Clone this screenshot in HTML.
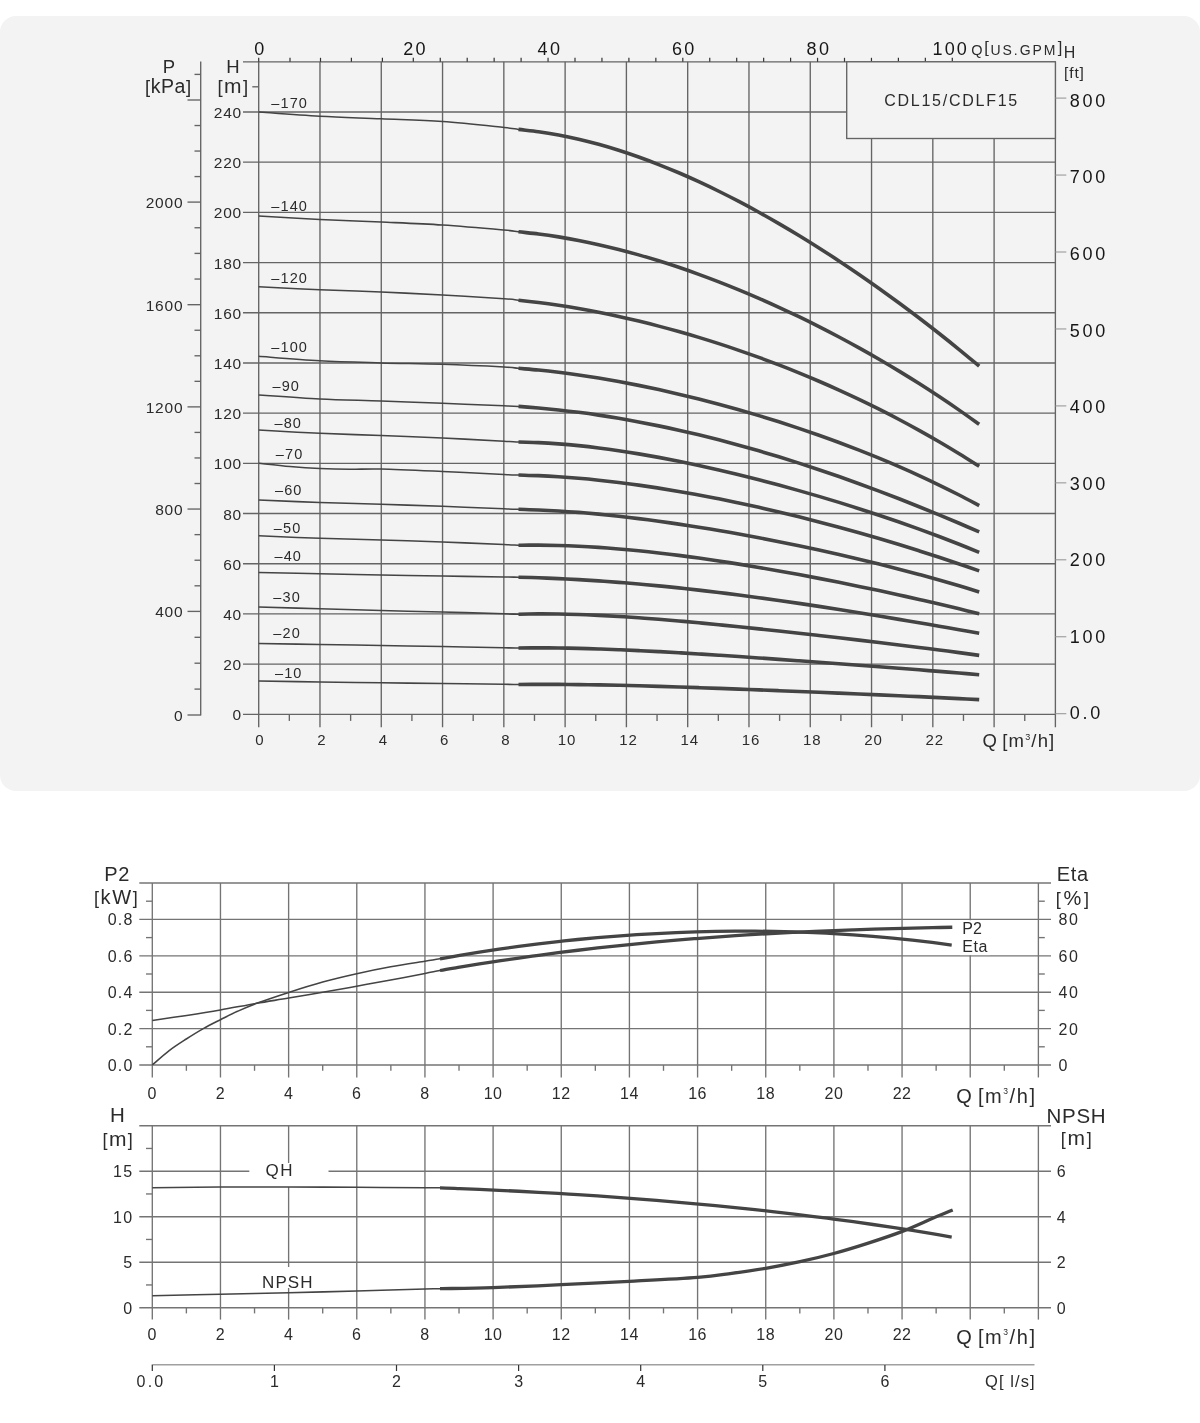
<!DOCTYPE html>
<html><head><meta charset="utf-8"><title>CDL15/CDLF15</title>
<style>
html,body{margin:0;padding:0;background:#fff;}
body{width:1200px;height:1423px;overflow:hidden;font-family:"Liberation Sans",sans-serif;}
#panel{position:absolute;left:0;top:15.8px;width:1200px;height:775.5px;background:#f3f3f3;border-radius:16px;}
svg{position:absolute;left:0;top:0;will-change:transform;}
svg text{font-family:"Liberation Sans",sans-serif;}
</style></head><body>
<div id="panel"></div>
<svg width="1200" height="1423" viewBox="0 0 1200 1423">
<g id="main">
<line x1="258.7" y1="61.8" x2="258.7" y2="727.3" stroke="#646464" stroke-width="1.35"/>
<line x1="319.98" y1="61.8" x2="319.98" y2="727.3" stroke="#646464" stroke-width="1.35"/>
<line x1="381.27" y1="61.8" x2="381.27" y2="727.3" stroke="#646464" stroke-width="1.35"/>
<line x1="442.55" y1="61.8" x2="442.55" y2="727.3" stroke="#646464" stroke-width="1.35"/>
<line x1="503.84" y1="61.8" x2="503.84" y2="727.3" stroke="#646464" stroke-width="1.35"/>
<line x1="565.12" y1="61.8" x2="565.12" y2="727.3" stroke="#646464" stroke-width="1.35"/>
<line x1="626.4" y1="61.8" x2="626.4" y2="727.3" stroke="#646464" stroke-width="1.35"/>
<line x1="687.69" y1="61.8" x2="687.69" y2="727.3" stroke="#646464" stroke-width="1.35"/>
<line x1="748.97" y1="61.8" x2="748.97" y2="727.3" stroke="#646464" stroke-width="1.35"/>
<line x1="810.26" y1="61.8" x2="810.26" y2="727.3" stroke="#646464" stroke-width="1.35"/>
<line x1="871.54" y1="61.8" x2="871.54" y2="727.3" stroke="#646464" stroke-width="1.35"/>
<line x1="932.82" y1="61.8" x2="932.82" y2="727.3" stroke="#646464" stroke-width="1.35"/>
<line x1="994.11" y1="61.8" x2="994.11" y2="727.3" stroke="#646464" stroke-width="1.35"/>
<line x1="1055.39" y1="61.8" x2="1055.39" y2="727.3" stroke="#646464" stroke-width="1.35"/>
<line x1="243" y1="714.3" x2="1055.39" y2="714.3" stroke="#646464" stroke-width="1.35"/>
<line x1="243" y1="664.11" x2="1055.39" y2="664.11" stroke="#646464" stroke-width="1.35"/>
<line x1="243" y1="613.92" x2="1055.39" y2="613.92" stroke="#646464" stroke-width="1.35"/>
<line x1="243" y1="563.72" x2="1055.39" y2="563.72" stroke="#646464" stroke-width="1.35"/>
<line x1="243" y1="513.53" x2="1055.39" y2="513.53" stroke="#646464" stroke-width="1.35"/>
<line x1="243" y1="463.34" x2="1055.39" y2="463.34" stroke="#646464" stroke-width="1.35"/>
<line x1="243" y1="413.15" x2="1055.39" y2="413.15" stroke="#646464" stroke-width="1.35"/>
<line x1="243" y1="362.96" x2="1055.39" y2="362.96" stroke="#646464" stroke-width="1.35"/>
<line x1="243" y1="312.76" x2="1055.39" y2="312.76" stroke="#646464" stroke-width="1.35"/>
<line x1="243" y1="262.57" x2="1055.39" y2="262.57" stroke="#646464" stroke-width="1.35"/>
<line x1="243" y1="212.38" x2="1055.39" y2="212.38" stroke="#646464" stroke-width="1.35"/>
<line x1="243" y1="162.19" x2="1055.39" y2="162.19" stroke="#646464" stroke-width="1.35"/>
<line x1="243" y1="112" x2="1055.39" y2="112" stroke="#646464" stroke-width="1.35"/>
<line x1="243" y1="61.8" x2="1055.39" y2="61.8" stroke="#646464" stroke-width="1.35"/>
<line x1="289.34" y1="714.3" x2="289.34" y2="720.9" stroke="#646464" stroke-width="1.35"/>
<line x1="350.63" y1="714.3" x2="350.63" y2="720.9" stroke="#646464" stroke-width="1.35"/>
<line x1="411.91" y1="714.3" x2="411.91" y2="720.9" stroke="#646464" stroke-width="1.35"/>
<line x1="473.19" y1="714.3" x2="473.19" y2="720.9" stroke="#646464" stroke-width="1.35"/>
<line x1="534.48" y1="714.3" x2="534.48" y2="720.9" stroke="#646464" stroke-width="1.35"/>
<line x1="595.76" y1="714.3" x2="595.76" y2="720.9" stroke="#646464" stroke-width="1.35"/>
<line x1="657.05" y1="714.3" x2="657.05" y2="720.9" stroke="#646464" stroke-width="1.35"/>
<line x1="718.33" y1="714.3" x2="718.33" y2="720.9" stroke="#646464" stroke-width="1.35"/>
<line x1="779.61" y1="714.3" x2="779.61" y2="720.9" stroke="#646464" stroke-width="1.35"/>
<line x1="840.9" y1="714.3" x2="840.9" y2="720.9" stroke="#646464" stroke-width="1.35"/>
<line x1="902.18" y1="714.3" x2="902.18" y2="720.9" stroke="#646464" stroke-width="1.35"/>
<line x1="963.47" y1="714.3" x2="963.47" y2="720.9" stroke="#646464" stroke-width="1.35"/>
<line x1="1024.75" y1="714.3" x2="1024.75" y2="720.9" stroke="#646464" stroke-width="1.35"/>
<line x1="252.3" y1="86.8" x2="258.7" y2="86.8" stroke="#646464" stroke-width="1.35"/>
<line x1="258.7" y1="57.8" x2="258.7" y2="61.8" stroke="#333" stroke-width="1.2"/>
<line x1="290" y1="57.8" x2="290" y2="61.8" stroke="#333" stroke-width="1.2"/>
<line x1="320.5" y1="57.8" x2="320.5" y2="61.8" stroke="#333" stroke-width="1.2"/>
<line x1="351.4" y1="57.8" x2="351.4" y2="61.8" stroke="#333" stroke-width="1.2"/>
<line x1="382.4" y1="57.8" x2="382.4" y2="61.8" stroke="#333" stroke-width="1.2"/>
<line x1="413.3" y1="57.8" x2="413.3" y2="61.8" stroke="#333" stroke-width="1.2"/>
<line x1="440.25" y1="57.8" x2="440.25" y2="61.8" stroke="#333" stroke-width="1.2"/>
<line x1="467.2" y1="57.8" x2="467.2" y2="61.8" stroke="#333" stroke-width="1.2"/>
<line x1="494.15" y1="57.8" x2="494.15" y2="61.8" stroke="#333" stroke-width="1.2"/>
<line x1="521.1" y1="57.8" x2="521.1" y2="61.8" stroke="#333" stroke-width="1.2"/>
<line x1="548.05" y1="57.8" x2="548.05" y2="61.8" stroke="#333" stroke-width="1.2"/>
<line x1="575" y1="57.8" x2="575" y2="61.8" stroke="#333" stroke-width="1.2"/>
<line x1="601.95" y1="57.8" x2="601.95" y2="61.8" stroke="#333" stroke-width="1.2"/>
<line x1="628.9" y1="57.8" x2="628.9" y2="61.8" stroke="#333" stroke-width="1.2"/>
<line x1="655.85" y1="57.8" x2="655.85" y2="61.8" stroke="#333" stroke-width="1.2"/>
<line x1="682.8" y1="57.8" x2="682.8" y2="61.8" stroke="#333" stroke-width="1.2"/>
<line x1="709.75" y1="57.8" x2="709.75" y2="61.8" stroke="#333" stroke-width="1.2"/>
<line x1="736.7" y1="57.8" x2="736.7" y2="61.8" stroke="#333" stroke-width="1.2"/>
<line x1="763.65" y1="57.8" x2="763.65" y2="61.8" stroke="#333" stroke-width="1.2"/>
<line x1="790.6" y1="57.8" x2="790.6" y2="61.8" stroke="#333" stroke-width="1.2"/>
<line x1="817.55" y1="57.8" x2="817.55" y2="61.8" stroke="#333" stroke-width="1.2"/>
<line x1="844.5" y1="57.8" x2="844.5" y2="61.8" stroke="#333" stroke-width="1.2"/>
<line x1="871.45" y1="57.8" x2="871.45" y2="61.8" stroke="#333" stroke-width="1.2"/>
<line x1="898.4" y1="57.8" x2="898.4" y2="61.8" stroke="#333" stroke-width="1.2"/>
<line x1="925.35" y1="57.8" x2="925.35" y2="61.8" stroke="#333" stroke-width="1.2"/>
<line x1="952.3" y1="57.8" x2="952.3" y2="61.8" stroke="#333" stroke-width="1.2"/>
<rect x="846.7" y="61.8" width="208.69" height="76.7" fill="#f3f3f3" stroke="#646464" stroke-width="1.35"/>
<text x="884.2" y="105.6" font-size="16" text-anchor="start" fill="#2b2b2b" letter-spacing="1.75">CDL15/CDLF15</text>
<line x1="200.7" y1="61.4" x2="200.7" y2="715.6" stroke="#646464" stroke-width="1.35"/>
<line x1="187.5" y1="715" x2="200.7" y2="715" stroke="#646464" stroke-width="1.35"/>
<line x1="194.5" y1="689.1" x2="200.7" y2="689.1" stroke="#646464" stroke-width="1.35"/>
<line x1="194.5" y1="663.2" x2="200.7" y2="663.2" stroke="#646464" stroke-width="1.35"/>
<line x1="194.5" y1="637.3" x2="200.7" y2="637.3" stroke="#646464" stroke-width="1.35"/>
<line x1="187.5" y1="611.4" x2="200.7" y2="611.4" stroke="#646464" stroke-width="1.35"/>
<line x1="194.5" y1="585.81" x2="200.7" y2="585.81" stroke="#646464" stroke-width="1.35"/>
<line x1="194.5" y1="560.23" x2="200.7" y2="560.23" stroke="#646464" stroke-width="1.35"/>
<line x1="194.5" y1="534.64" x2="200.7" y2="534.64" stroke="#646464" stroke-width="1.35"/>
<line x1="187.5" y1="509.05" x2="200.7" y2="509.05" stroke="#646464" stroke-width="1.35"/>
<line x1="194.5" y1="483.51" x2="200.7" y2="483.51" stroke="#646464" stroke-width="1.35"/>
<line x1="194.5" y1="457.96" x2="200.7" y2="457.96" stroke="#646464" stroke-width="1.35"/>
<line x1="194.5" y1="432.42" x2="200.7" y2="432.42" stroke="#646464" stroke-width="1.35"/>
<line x1="187.5" y1="406.88" x2="200.7" y2="406.88" stroke="#646464" stroke-width="1.35"/>
<line x1="194.5" y1="381.33" x2="200.7" y2="381.33" stroke="#646464" stroke-width="1.35"/>
<line x1="194.5" y1="355.79" x2="200.7" y2="355.79" stroke="#646464" stroke-width="1.35"/>
<line x1="194.5" y1="330.24" x2="200.7" y2="330.24" stroke="#646464" stroke-width="1.35"/>
<line x1="187.5" y1="304.7" x2="200.7" y2="304.7" stroke="#646464" stroke-width="1.35"/>
<line x1="194.5" y1="279.05" x2="200.7" y2="279.05" stroke="#646464" stroke-width="1.35"/>
<line x1="194.5" y1="253.4" x2="200.7" y2="253.4" stroke="#646464" stroke-width="1.35"/>
<line x1="194.5" y1="227.75" x2="200.7" y2="227.75" stroke="#646464" stroke-width="1.35"/>
<line x1="187.5" y1="202.1" x2="200.7" y2="202.1" stroke="#646464" stroke-width="1.35"/>
<line x1="194.5" y1="176.57" x2="200.7" y2="176.57" stroke="#646464" stroke-width="1.35"/>
<line x1="194.5" y1="151.05" x2="200.7" y2="151.05" stroke="#646464" stroke-width="1.35"/>
<line x1="194.5" y1="125.53" x2="200.7" y2="125.53" stroke="#646464" stroke-width="1.35"/>
<line x1="187.5" y1="100" x2="200.7" y2="100" stroke="#646464" stroke-width="1.35"/>
<line x1="194.5" y1="74.4" x2="200.7" y2="74.4" stroke="#646464" stroke-width="1.35"/>
<text x="183.4" y="721" font-size="15.5" text-anchor="end" fill="#2b2b2b" letter-spacing="0.8">0</text>
<text x="183.4" y="617.4" font-size="15.5" text-anchor="end" fill="#2b2b2b" letter-spacing="0.8">400</text>
<text x="183.4" y="515.05" font-size="15.5" text-anchor="end" fill="#2b2b2b" letter-spacing="0.8">800</text>
<text x="183.4" y="412.88" font-size="15.5" text-anchor="end" fill="#2b2b2b" letter-spacing="0.8">1200</text>
<text x="183.4" y="310.7" font-size="15.5" text-anchor="end" fill="#2b2b2b" letter-spacing="0.8">1600</text>
<text x="183.4" y="208.1" font-size="15.5" text-anchor="end" fill="#2b2b2b" letter-spacing="0.8">2000</text>
<text x="169" y="73.4" font-size="18.5" text-anchor="middle" fill="#2b2b2b">P</text>
<text x="145" y="92.5" font-size="18.5" text-anchor="start" fill="#2b2b2b" letter-spacing="0.55">[<tspan font-size="19.5">kPa</tspan>]</text>
<text x="233" y="73.4" font-size="18.5" text-anchor="middle" fill="#2b2b2b">H</text>
<text x="217.4" y="92.5" font-size="18.5" text-anchor="start" fill="#2b2b2b" letter-spacing="1.5">[<tspan font-size="21">m</tspan>]</text>
<text x="242" y="720.3" font-size="15.5" text-anchor="end" fill="#2b2b2b" letter-spacing="0.8">0</text>
<text x="242" y="670.11" font-size="15.5" text-anchor="end" fill="#2b2b2b" letter-spacing="0.8">20</text>
<text x="242" y="619.92" font-size="15.5" text-anchor="end" fill="#2b2b2b" letter-spacing="0.8">40</text>
<text x="242" y="569.72" font-size="15.5" text-anchor="end" fill="#2b2b2b" letter-spacing="0.8">60</text>
<text x="242" y="519.53" font-size="15.5" text-anchor="end" fill="#2b2b2b" letter-spacing="0.8">80</text>
<text x="242" y="469.34" font-size="15.5" text-anchor="end" fill="#2b2b2b" letter-spacing="0.8">100</text>
<text x="242" y="419.15" font-size="15.5" text-anchor="end" fill="#2b2b2b" letter-spacing="0.8">120</text>
<text x="242" y="368.96" font-size="15.5" text-anchor="end" fill="#2b2b2b" letter-spacing="0.8">140</text>
<text x="242" y="318.76" font-size="15.5" text-anchor="end" fill="#2b2b2b" letter-spacing="0.8">160</text>
<text x="242" y="268.57" font-size="15.5" text-anchor="end" fill="#2b2b2b" letter-spacing="0.8">180</text>
<text x="242" y="218.38" font-size="15.5" text-anchor="end" fill="#2b2b2b" letter-spacing="0.8">200</text>
<text x="242" y="168.19" font-size="15.5" text-anchor="end" fill="#2b2b2b" letter-spacing="0.8">220</text>
<text x="242" y="118" font-size="15.5" text-anchor="end" fill="#2b2b2b" letter-spacing="0.8">240</text>
<text x="259.9" y="744.6" font-size="15" text-anchor="middle" fill="#2b2b2b" letter-spacing="0.9">0</text>
<text x="321.98" y="744.6" font-size="15" text-anchor="middle" fill="#2b2b2b" letter-spacing="0.9">2</text>
<text x="383.27" y="744.6" font-size="15" text-anchor="middle" fill="#2b2b2b" letter-spacing="0.9">4</text>
<text x="444.55" y="744.6" font-size="15" text-anchor="middle" fill="#2b2b2b" letter-spacing="0.9">6</text>
<text x="505.84" y="744.6" font-size="15" text-anchor="middle" fill="#2b2b2b" letter-spacing="0.9">8</text>
<text x="567.12" y="744.6" font-size="15" text-anchor="middle" fill="#2b2b2b" letter-spacing="0.9">10</text>
<text x="628.4" y="744.6" font-size="15" text-anchor="middle" fill="#2b2b2b" letter-spacing="0.9">12</text>
<text x="689.69" y="744.6" font-size="15" text-anchor="middle" fill="#2b2b2b" letter-spacing="0.9">14</text>
<text x="750.97" y="744.6" font-size="15" text-anchor="middle" fill="#2b2b2b" letter-spacing="0.9">16</text>
<text x="812.26" y="744.6" font-size="15" text-anchor="middle" fill="#2b2b2b" letter-spacing="0.9">18</text>
<text x="873.54" y="744.6" font-size="15" text-anchor="middle" fill="#2b2b2b" letter-spacing="0.9">20</text>
<text x="934.82" y="744.6" font-size="15" text-anchor="middle" fill="#2b2b2b" letter-spacing="0.9">22</text>
<text x="982.5" y="747.2" font-size="18.5" text-anchor="start" fill="#2b2b2b" letter-spacing="1.15" word-spacing="-2">Q [m<tspan dy="-7.5" font-size="9">3</tspan><tspan dy="7.5">/h]</tspan></text>
<text x="260.4" y="54.7" font-size="18" text-anchor="middle" fill="#161616" letter-spacing="2.4">0</text>
<text x="415.6" y="54.7" font-size="18" text-anchor="middle" fill="#161616" letter-spacing="2.4">20</text>
<text x="550" y="54.7" font-size="18" text-anchor="middle" fill="#161616" letter-spacing="2.4">40</text>
<text x="684.3" y="54.7" font-size="18" text-anchor="middle" fill="#161616" letter-spacing="2.4">60</text>
<text x="819" y="54.7" font-size="18" text-anchor="middle" fill="#161616" letter-spacing="2.4">80</text>
<text x="932.6" y="54.7" font-size="18" text-anchor="start" fill="#161616" letter-spacing="2.1">100</text>
<text x="971.3" y="54.6" font-size="14.5" text-anchor="start" fill="#2b2b2b">Q</text>
<text x="984.2" y="52.8" font-size="16.5" text-anchor="start" fill="#2b2b2b">[</text>
<text x="990.6" y="54.9" font-size="14" text-anchor="start" fill="#2b2b2b" letter-spacing="1.9">US.GPM</text>
<text x="1057.7" y="52.8" font-size="16.5" text-anchor="start" fill="#2b2b2b">]</text>
<text x="1063.8" y="58" font-size="16" text-anchor="start" fill="#2b2b2b">H</text>
<text x="1064" y="77.5" font-size="15.5" text-anchor="start" fill="#2b2b2b" letter-spacing="0.9">[ft]</text>
<line x1="1055.39" y1="713.7" x2="1066.3" y2="713.7" stroke="#999" stroke-width="1.1"/>
<text x="1069.8" y="719.2" font-size="18" text-anchor="start" fill="#161616" letter-spacing="2.7">0.0</text>
<line x1="1055.39" y1="636.75" x2="1066.3" y2="636.75" stroke="#999" stroke-width="1.1"/>
<text x="1069.8" y="642.66" font-size="18" text-anchor="start" fill="#161616" letter-spacing="2.7">100</text>
<line x1="1055.39" y1="559.8" x2="1066.3" y2="559.8" stroke="#999" stroke-width="1.1"/>
<text x="1069.8" y="566.12" font-size="18" text-anchor="start" fill="#161616" letter-spacing="2.7">200</text>
<line x1="1055.39" y1="482.85" x2="1066.3" y2="482.85" stroke="#999" stroke-width="1.1"/>
<text x="1069.8" y="489.58" font-size="18" text-anchor="start" fill="#161616" letter-spacing="2.7">300</text>
<line x1="1055.39" y1="405.9" x2="1066.3" y2="405.9" stroke="#999" stroke-width="1.1"/>
<text x="1069.8" y="413.04" font-size="18" text-anchor="start" fill="#161616" letter-spacing="2.7">400</text>
<line x1="1055.39" y1="328.95" x2="1066.3" y2="328.95" stroke="#999" stroke-width="1.1"/>
<text x="1069.8" y="336.5" font-size="18" text-anchor="start" fill="#161616" letter-spacing="2.7">500</text>
<line x1="1055.39" y1="252" x2="1066.3" y2="252" stroke="#999" stroke-width="1.1"/>
<text x="1069.8" y="259.96" font-size="18" text-anchor="start" fill="#161616" letter-spacing="2.7">600</text>
<line x1="1055.39" y1="175.05" x2="1066.3" y2="175.05" stroke="#999" stroke-width="1.1"/>
<text x="1069.8" y="183.42" font-size="18" text-anchor="start" fill="#161616" letter-spacing="2.7">700</text>
<line x1="1055.39" y1="98.1" x2="1066.3" y2="98.1" stroke="#999" stroke-width="1.1"/>
<text x="1069.8" y="106.88" font-size="18" text-anchor="start" fill="#161616" letter-spacing="2.7">800</text>
<path d="M258.7,112C268.88,112.72 299.38,115.17 319.8,116.3C340.22,117.43 360.75,117.93 381.2,118.8C401.65,119.67 422.03,120.05 442.5,121.5C462.97,122.95 491.33,126.18 504,127.5C516.67,128.82 512.74,128.7 518.5,129.4C524.26,130.1 531.85,130.77 538.53,131.71" fill="none" stroke="#444" stroke-width="1.55"/>
<path d="M518.5,129.4C524.26,130.1 531.85,130.77 538.53,131.71C545.21,132.64 551.88,133.75 558.56,135C565.24,136.25 571.91,137.67 578.59,139.23C585.27,140.79 591.94,142.5 598.62,144.35C605.3,146.19 611.98,148.18 618.65,150.3C625.33,152.42 632.01,154.68 638.68,157.05C645.36,159.43 652.04,161.94 658.71,164.56C665.39,167.18 672.07,169.93 678.74,172.78C685.42,175.64 692.1,178.61 698.77,181.69C705.45,184.77 712.13,187.96 718.8,191.25C725.48,194.54 732.16,197.94 738.83,201.43C745.51,204.92 752.19,208.52 758.87,212.21C765.54,215.9 772.22,219.69 778.9,223.57C785.57,227.45 792.25,231.42 798.93,235.48C805.6,239.54 812.28,243.7 818.96,247.93C825.63,252.17 832.31,256.5 838.99,260.92C845.66,265.33 852.34,269.83 859.02,274.42C865.69,279 872.37,283.68 879.05,288.43C885.72,293.19 892.4,298.03 899.08,302.95C905.76,307.88 912.43,312.88 919.11,317.98C925.79,323.07 932.46,328.25 939.14,333.52C945.82,338.78 952.49,344.13 959.17,349.57C965.85,355.01 975.86,363.38 979.2,366.14" fill="none" stroke="#444" stroke-width="3.6"/>
<path d="M258.7,216C268.88,216.58 299.38,218.5 319.8,219.5C340.22,220.5 360.75,221.08 381.2,222C401.65,222.92 422.03,223.67 442.5,225C462.97,226.33 491.33,228.87 504,230C516.67,231.13 512.74,231.14 518.5,231.8C524.26,232.46 531.85,233.13 538.53,233.97" fill="none" stroke="#444" stroke-width="1.55"/>
<path d="M518.5,231.8C524.26,232.46 531.85,233.13 538.53,233.97C545.21,234.82 551.88,235.79 558.56,236.86C565.24,237.94 571.91,239.13 578.59,240.43C585.27,241.73 591.94,243.14 598.62,244.64C605.3,246.15 611.98,247.76 618.65,249.46C625.33,251.17 632.01,252.97 638.68,254.87C645.36,256.76 652.04,258.75 658.71,260.82C665.39,262.9 672.07,265.07 678.74,267.32C685.42,269.57 692.1,271.91 698.77,274.33C705.45,276.75 712.13,279.26 718.8,281.84C725.48,284.43 732.16,287.1 738.83,289.84C745.51,292.59 752.19,295.42 758.87,298.33C765.54,301.23 772.22,304.22 778.9,307.28C785.57,310.35 792.25,313.49 798.93,316.72C805.6,319.94 812.28,323.24 818.96,326.62C825.63,330 832.31,333.47 838.99,337.01C845.66,340.55 852.34,344.18 859.02,347.89C865.69,351.59 872.37,355.38 879.05,359.26C885.72,363.14 892.4,367.1 899.08,371.15C905.76,375.21 912.43,379.35 919.11,383.58C925.79,387.81 932.46,392.14 939.14,396.56C945.82,400.99 952.49,405.5 959.17,410.12C965.85,414.75 975.86,421.93 979.2,424.3" fill="none" stroke="#444" stroke-width="3.6"/>
<path d="M258.7,286.8C268.88,287.3 299.38,288.93 319.8,289.8C340.22,290.67 360.75,291.13 381.2,292C401.65,292.87 422.03,293.87 442.5,295C462.97,296.13 491.33,297.93 504,298.8C516.67,299.67 512.74,299.58 518.5,300.2C524.26,300.82 531.85,301.67 538.53,302.52" fill="none" stroke="#444" stroke-width="1.55"/>
<path d="M518.5,300.2C524.26,300.82 531.85,301.67 538.53,302.52C545.21,303.37 551.88,304.31 558.56,305.33C565.24,306.34 571.91,307.43 578.59,308.6C585.27,309.77 591.94,311.02 598.62,312.33C605.3,313.65 611.98,315.04 618.65,316.5C625.33,317.96 632.01,319.5 638.68,321.1C645.36,322.7 652.04,324.38 658.71,326.12C665.39,327.86 672.07,329.67 678.74,331.55C685.42,333.43 692.1,335.38 698.77,337.4C705.45,339.42 712.13,341.5 718.8,343.66C725.48,345.81 732.16,348.03 738.83,350.33C745.51,352.62 752.19,354.98 758.87,357.41C765.54,359.84 772.22,362.34 778.9,364.92C785.57,367.49 792.25,370.14 798.93,372.86C805.6,375.58 812.28,378.37 818.96,381.24C825.63,384.1 832.31,387.05 838.99,390.07C845.66,393.09 852.34,396.19 859.02,399.38C865.69,402.56 872.37,405.82 879.05,409.18C885.72,412.53 892.4,415.96 899.08,419.48C905.76,423.01 912.43,426.62 919.11,430.33C925.79,434.04 932.46,437.83 939.14,441.73C945.82,445.63 952.49,449.62 959.17,453.72C965.85,457.82 975.86,464.23 979.2,466.34" fill="none" stroke="#444" stroke-width="3.6"/>
<path d="M258.7,356.3C268.88,357.05 299.38,359.7 319.8,360.8C340.22,361.9 360.75,362.32 381.2,362.9C401.65,363.48 422.03,363.62 442.5,364.3C462.97,364.98 491.33,366.33 504,367C516.67,367.67 512.74,367.79 518.5,368.3C524.26,368.81 531.85,369.39 538.53,370.06" fill="none" stroke="#444" stroke-width="1.55"/>
<path d="M518.5,368.3C524.26,368.81 531.85,369.39 538.53,370.06C545.21,370.72 551.88,371.47 558.56,372.29C565.24,373.1 571.91,374 578.59,374.96C585.27,375.92 591.94,376.95 598.62,378.05C605.3,379.14 611.98,380.3 618.65,381.53C625.33,382.75 632.01,384.04 638.68,385.38C645.36,386.72 652.04,388.13 658.71,389.59C665.39,391.05 672.07,392.56 678.74,394.14C685.42,395.71 692.1,397.34 698.77,399.02C705.45,400.7 712.13,402.44 718.8,404.23C725.48,406.02 732.16,407.87 738.83,409.77C745.51,411.67 752.19,413.62 758.87,415.63C765.54,417.64 772.22,419.7 778.9,421.83C785.57,423.95 792.25,426.12 798.93,428.36C805.6,430.6 812.28,432.89 818.96,435.24C825.63,437.6 832.31,440.01 838.99,442.5C845.66,444.98 852.34,447.52 859.02,450.13C865.69,452.75 872.37,455.42 879.05,458.18C885.72,460.93 892.4,463.75 899.08,466.65C905.76,469.56 912.43,472.53 919.11,475.59C925.79,478.66 932.46,481.8 939.14,485.03C945.82,488.26 952.49,491.58 959.17,495C965.85,498.41 975.86,503.78 979.2,505.54" fill="none" stroke="#444" stroke-width="3.6"/>
<path d="M258.7,395C268.88,395.67 299.38,398 319.8,399C340.22,400 360.75,400.28 381.2,401C401.65,401.72 422.03,402.5 442.5,403.3C462.97,404.1 491.33,405.28 504,405.8C516.67,406.32 512.74,406.04 518.5,406.4C524.26,406.76 531.85,407.36 538.53,407.95" fill="none" stroke="#444" stroke-width="1.55"/>
<path d="M518.5,406.4C524.26,406.76 531.85,407.36 538.53,407.95C545.21,408.54 551.88,409.2 558.56,409.93C565.24,410.66 571.91,411.46 578.59,412.33C585.27,413.2 591.94,414.13 598.62,415.13C605.3,416.13 611.98,417.2 618.65,418.33C625.33,419.45 632.01,420.65 638.68,421.9C645.36,423.16 652.04,424.48 658.71,425.86C665.39,427.23 672.07,428.67 678.74,430.17C685.42,431.67 692.1,433.22 698.77,434.84C705.45,436.45 712.13,438.12 718.8,439.84C725.48,441.57 732.16,443.35 738.83,445.19C745.51,447.02 752.19,448.91 758.87,450.85C765.54,452.79 772.22,454.79 778.9,456.83C785.57,458.88 792.25,460.97 798.93,463.12C805.6,465.26 812.28,467.46 818.96,469.7C825.63,471.94 832.31,474.23 838.99,476.56C845.66,478.9 852.34,481.28 859.02,483.71C865.69,486.13 872.37,488.6 879.05,491.12C885.72,493.63 892.4,496.19 899.08,498.79C905.76,501.39 912.43,504.03 919.11,506.71C925.79,509.4 932.46,512.12 939.14,514.88C945.82,517.64 952.49,520.44 959.17,523.28C965.85,526.12 975.86,530.48 979.2,531.91" fill="none" stroke="#444" stroke-width="3.6"/>
<path d="M258.7,430C268.88,430.55 299.38,432.38 319.8,433.3C340.22,434.22 360.75,434.72 381.2,435.5C401.65,436.28 422.03,437.03 442.5,438C462.97,438.97 491.33,440.63 504,441.3C516.67,441.97 512.74,441.78 518.5,442C524.26,442.22 531.85,442.32 538.53,442.63" fill="none" stroke="#444" stroke-width="1.55"/>
<path d="M518.5,442C524.26,442.22 531.85,442.32 538.53,442.63C545.21,442.94 551.88,443.36 558.56,443.86C565.24,444.37 571.91,444.97 578.59,445.65C585.27,446.33 591.94,447.1 598.62,447.94C605.3,448.78 611.98,449.7 618.65,450.69C625.33,451.67 632.01,452.73 638.68,453.85C645.36,454.97 652.04,456.15 658.71,457.39C665.39,458.63 672.07,459.93 678.74,461.28C685.42,462.63 692.1,464.03 698.77,465.49C705.45,466.94 712.13,468.44 718.8,469.99C725.48,471.53 732.16,473.13 738.83,474.76C745.51,476.4 752.19,478.08 758.87,479.8C765.54,481.52 772.22,483.29 778.9,485.09C785.57,486.89 792.25,488.73 798.93,490.62C805.6,492.5 812.28,494.42 818.96,496.39C825.63,498.35 832.31,500.36 838.99,502.4C845.66,504.45 852.34,506.53 859.02,508.66C865.69,510.8 872.37,512.97 879.05,515.19C885.72,517.41 892.4,519.67 899.08,521.99C905.76,524.3 912.43,526.66 919.11,529.08C925.79,531.5 932.46,533.97 939.14,536.5C945.82,539.03 952.49,541.61 959.17,544.26C965.85,546.91 975.86,551.04 979.2,552.4" fill="none" stroke="#444" stroke-width="3.6"/>
<path d="M258.7,463.3C263.92,463.83 279.82,465.63 290,466.5C300.18,467.37 309.8,468.03 319.8,468.5C329.8,468.97 339.77,469.22 350,469.3C360.23,469.38 365.78,468.63 381.2,469C396.62,469.37 422.03,470.58 442.5,471.5C462.97,472.42 491.33,473.92 504,474.5C516.67,475.08 512.74,474.81 518.5,475C524.26,475.19 531.85,475.37 538.53,475.66" fill="none" stroke="#444" stroke-width="1.55"/>
<path d="M518.5,475C524.26,475.19 531.85,475.37 538.53,475.66C545.21,475.96 551.88,476.33 558.56,476.77C565.24,477.21 571.91,477.72 578.59,478.3C585.27,478.87 591.94,479.52 598.62,480.22C605.3,480.92 611.98,481.69 618.65,482.51C625.33,483.34 632.01,484.22 638.68,485.15C645.36,486.09 652.04,487.08 658.71,488.13C665.39,489.17 672.07,490.26 678.74,491.41C685.42,492.55 692.1,493.75 698.77,494.99C705.45,496.22 712.13,497.51 718.8,498.84C725.48,500.17 732.16,501.55 738.83,502.97C745.51,504.38 752.19,505.84 758.87,507.35C765.54,508.85 772.22,510.39 778.9,511.97C785.57,513.55 792.25,515.18 798.93,516.84C805.6,518.5 812.28,520.2 818.96,521.93C825.63,523.67 832.31,525.44 838.99,527.26C845.66,529.07 852.34,530.92 859.02,532.81C865.69,534.69 872.37,536.62 879.05,538.58C885.72,540.54 892.4,542.54 899.08,544.58C905.76,546.61 912.43,548.69 919.11,550.8C925.79,552.92 932.46,555.07 939.14,557.26C945.82,559.45 952.49,561.68 959.17,563.95C965.85,566.23 975.86,569.74 979.2,570.89" fill="none" stroke="#444" stroke-width="3.6"/>
<path d="M258.7,500C268.88,500.42 299.38,501.78 319.8,502.5C340.22,503.22 360.75,503.67 381.2,504.3C401.65,504.93 422.03,505.55 442.5,506.3C462.97,507.05 491.33,508.3 504,508.8C516.67,509.3 512.74,509.11 518.5,509.3C524.26,509.49 531.85,509.66 538.53,509.94" fill="none" stroke="#444" stroke-width="1.55"/>
<path d="M518.5,509.3C524.26,509.49 531.85,509.66 538.53,509.94C545.21,510.22 551.88,510.57 558.56,510.98C565.24,511.39 571.91,511.87 578.59,512.4C585.27,512.93 591.94,513.52 598.62,514.16C605.3,514.8 611.98,515.49 618.65,516.23C625.33,516.97 632.01,517.76 638.68,518.59C645.36,519.43 652.04,520.31 658.71,521.22C665.39,522.14 672.07,523.1 678.74,524.1C685.42,525.09 692.1,526.13 698.77,527.2C705.45,528.27 712.13,529.38 718.8,530.52C725.48,531.66 732.16,532.84 738.83,534.04C745.51,535.25 752.19,536.49 758.87,537.76C765.54,539.03 772.22,540.34 778.9,541.67C785.57,543 792.25,544.37 798.93,545.76C805.6,547.16 812.28,548.59 818.96,550.05C825.63,551.5 832.31,552.99 838.99,554.52C845.66,556.04 852.34,557.59 859.02,559.18C865.69,560.77 872.37,562.39 879.05,564.05C885.72,565.71 892.4,567.41 899.08,569.14C905.76,570.87 912.43,572.64 919.11,574.45C925.79,576.27 932.46,578.12 939.14,580.02C945.82,581.91 952.49,583.85 959.17,585.84C965.85,587.83 975.86,590.94 979.2,591.96" fill="none" stroke="#444" stroke-width="3.6"/>
<path d="M258.7,535.8C268.88,536.22 299.38,537.6 319.8,538.3C340.22,539 360.75,539.38 381.2,540C401.65,540.62 422.03,541.25 442.5,542C462.97,542.75 491.33,543.97 504,544.5C516.67,545.03 512.74,545.1 518.5,545.2C524.26,545.3 531.85,545.05 538.53,545.09" fill="none" stroke="#444" stroke-width="1.55"/>
<path d="M518.5,545.2C524.26,545.3 531.85,545.05 538.53,545.09C545.21,545.13 551.88,545.25 558.56,545.44C565.24,545.63 571.91,545.9 578.59,546.22C585.27,546.55 591.94,546.95 598.62,547.4C605.3,547.85 611.98,548.37 618.65,548.93C625.33,549.5 632.01,550.12 638.68,550.79C645.36,551.47 652.04,552.19 658.71,552.96C665.39,553.72 672.07,554.54 678.74,555.39C685.42,556.25 692.1,557.14 698.77,558.08C705.45,559.01 712.13,559.98 718.8,560.99C725.48,561.99 732.16,563.04 738.83,564.11C745.51,565.18 752.19,566.29 758.87,567.42C765.54,568.55 772.22,569.72 778.9,570.9C785.57,572.09 792.25,573.31 798.93,574.55C805.6,575.8 812.28,577.06 818.96,578.36C825.63,579.65 832.31,580.96 838.99,582.3C845.66,583.64 852.34,585 859.02,586.39C865.69,587.77 872.37,589.18 879.05,590.61C885.72,592.04 892.4,593.49 899.08,594.96C905.76,596.44 912.43,597.93 919.11,599.45C925.79,600.97 932.46,602.51 939.14,604.08C945.82,605.65 952.49,607.24 959.17,608.85C965.85,610.47 975.86,612.96 979.2,613.78" fill="none" stroke="#444" stroke-width="3.6"/>
<path d="M258.7,572.5C268.88,572.72 299.38,573.38 319.8,573.8C340.22,574.22 360.75,574.63 381.2,575C401.65,575.37 422.03,575.67 442.5,576C462.97,576.33 491.33,576.8 504,577C516.67,577.2 512.74,577.07 518.5,577.2C524.26,577.33 531.85,577.56 538.53,577.79" fill="none" stroke="#444" stroke-width="1.55"/>
<path d="M518.5,577.2C524.26,577.33 531.85,577.56 538.53,577.79C545.21,578.03 551.88,578.3 558.56,578.61C565.24,578.92 571.91,579.27 578.59,579.66C585.27,580.04 591.94,580.46 598.62,580.91C605.3,581.36 611.98,581.85 618.65,582.37C625.33,582.89 632.01,583.45 638.68,584.03C645.36,584.62 652.04,585.24 658.71,585.88C665.39,586.53 672.07,587.21 678.74,587.91C685.42,588.62 692.1,589.35 698.77,590.12C705.45,590.88 712.13,591.67 718.8,592.48C725.48,593.29 732.16,594.14 738.83,595C745.51,595.86 752.19,596.75 758.87,597.66C765.54,598.57 772.22,599.5 778.9,600.45C785.57,601.41 792.25,602.38 798.93,603.37C805.6,604.36 812.28,605.37 818.96,606.4C825.63,607.42 832.31,608.47 838.99,609.52C845.66,610.58 852.34,611.65 859.02,612.74C865.69,613.82 872.37,614.92 879.05,616.03C885.72,617.13 892.4,618.25 899.08,619.38C905.76,620.5 912.43,621.64 919.11,622.78C925.79,623.92 932.46,625.07 939.14,626.22C945.82,627.37 952.49,628.53 959.17,629.69C965.85,630.84 975.86,632.58 979.2,633.16" fill="none" stroke="#444" stroke-width="3.6"/>
<path d="M258.7,607C268.88,607.3 299.38,608.22 319.8,608.8C340.22,609.38 360.75,609.97 381.2,610.5C401.65,611.03 422.03,611.45 442.5,612C462.97,612.55 491.33,613.43 504,613.8C516.67,614.17 512.74,614.18 518.5,614.2C524.26,614.22 531.85,613.94 538.53,613.92" fill="none" stroke="#444" stroke-width="1.55"/>
<path d="M518.5,614.2C524.26,614.22 531.85,613.94 538.53,613.92C545.21,613.9 551.88,613.95 558.56,614.05C565.24,614.16 571.91,614.33 578.59,614.55C585.27,614.76 591.94,615.04 598.62,615.36C605.3,615.67 611.98,616.04 618.65,616.44C625.33,616.84 632.01,617.29 638.68,617.76C645.36,618.23 652.04,618.75 658.71,619.28C665.39,619.81 672.07,620.38 678.74,620.97C685.42,621.55 692.1,622.16 698.77,622.79C705.45,623.42 712.13,624.07 718.8,624.73C725.48,625.39 732.16,626.07 738.83,626.76C745.51,627.45 752.19,628.16 758.87,628.87C765.54,629.58 772.22,630.31 778.9,631.04C785.57,631.77 792.25,632.51 798.93,633.26C805.6,634 812.28,634.76 818.96,635.51C825.63,636.27 832.31,637.04 838.99,637.81C845.66,638.58 852.34,639.36 859.02,640.15C865.69,640.93 872.37,641.72 879.05,642.52C885.72,643.32 892.4,644.13 899.08,644.95C905.76,645.76 912.43,646.59 919.11,647.43C925.79,648.27 932.46,649.12 939.14,649.98C945.82,650.85 952.49,651.72 959.17,652.62C965.85,653.52 975.86,654.91 979.2,655.37" fill="none" stroke="#444" stroke-width="3.6"/>
<path d="M258.7,643.5C268.88,643.67 299.38,644.17 319.8,644.5C340.22,644.83 360.75,645.17 381.2,645.5C401.65,645.83 422.03,646.12 442.5,646.5C462.97,646.88 491.33,647.55 504,647.8C516.67,648.05 512.74,647.99 518.5,648C524.26,648.01 531.85,647.87 538.53,647.87" fill="none" stroke="#444" stroke-width="1.55"/>
<path d="M518.5,648C524.26,648.01 531.85,647.87 538.53,647.87C545.21,647.87 551.88,647.92 558.56,648.01C565.24,648.09 571.91,648.22 578.59,648.37C585.27,648.53 591.94,648.72 598.62,648.94C605.3,649.16 611.98,649.41 618.65,649.68C625.33,649.96 632.01,650.26 638.68,650.58C645.36,650.9 652.04,651.24 658.71,651.6C665.39,651.96 672.07,652.33 678.74,652.72C685.42,653.11 692.1,653.52 698.77,653.94C705.45,654.35 712.13,654.79 718.8,655.22C725.48,655.66 732.16,656.11 738.83,656.56C745.51,657.02 752.19,657.48 758.87,657.95C765.54,658.42 772.22,658.89 778.9,659.37C785.57,659.84 792.25,660.33 798.93,660.81C805.6,661.3 812.28,661.78 818.96,662.28C825.63,662.77 832.31,663.26 838.99,663.75C845.66,664.25 852.34,664.75 859.02,665.25C865.69,665.75 872.37,666.25 879.05,666.76C885.72,667.26 892.4,667.77 899.08,668.28C905.76,668.8 912.43,669.31 919.11,669.83C925.79,670.35 932.46,670.88 939.14,671.41C945.82,671.94 952.49,672.48 959.17,673.03C965.85,673.57 975.86,674.41 979.2,674.69" fill="none" stroke="#444" stroke-width="3.6"/>
<path d="M258.7,681C268.88,681.17 299.38,681.7 319.8,682C340.22,682.3 360.75,682.55 381.2,682.8C401.65,683.05 422.03,683.25 442.5,683.5C462.97,683.75 491.33,684.13 504,684.3C516.67,684.47 512.74,684.49 518.5,684.5C524.26,684.51 531.85,684.39 538.53,684.37" fill="none" stroke="#444" stroke-width="1.55"/>
<path d="M518.5,684.5C524.26,684.51 531.85,684.39 538.53,684.37C545.21,684.35 551.88,684.37 558.56,684.4C565.24,684.44 571.91,684.5 578.59,684.58C585.27,684.66 591.94,684.77 598.62,684.88C605.3,685 611.98,685.14 618.65,685.29C625.33,685.44 632.01,685.61 638.68,685.79C645.36,685.97 652.04,686.16 658.71,686.36C665.39,686.56 672.07,686.77 678.74,686.99C685.42,687.21 692.1,687.44 698.77,687.67C705.45,687.9 712.13,688.14 718.8,688.39C725.48,688.63 732.16,688.88 738.83,689.13C745.51,689.39 752.19,689.64 758.87,689.9C765.54,690.16 772.22,690.43 778.9,690.69C785.57,690.96 792.25,691.23 798.93,691.5C805.6,691.77 812.28,692.04 818.96,692.31C825.63,692.59 832.31,692.87 838.99,693.14C845.66,693.42 852.34,693.7 859.02,693.99C865.69,694.27 872.37,694.56 879.05,694.85C885.72,695.14 892.4,695.44 899.08,695.74C905.76,696.04 912.43,696.34 919.11,696.65C925.79,696.96 932.46,697.28 939.14,697.6C945.82,697.93 952.49,698.26 959.17,698.6C965.85,698.94 975.86,699.48 979.2,699.66" fill="none" stroke="#444" stroke-width="3.6"/>
<text x="271.3" y="107.5" font-size="14.5" text-anchor="start" fill="#2b2b2b" letter-spacing="1.1">–170</text>
<text x="271.3" y="211" font-size="14.5" text-anchor="start" fill="#2b2b2b" letter-spacing="1.1">–140</text>
<text x="271.3" y="282.5" font-size="14.5" text-anchor="start" fill="#2b2b2b" letter-spacing="1.1">–120</text>
<text x="271.3" y="351.8" font-size="14.5" text-anchor="start" fill="#2b2b2b" letter-spacing="1.1">–100</text>
<text x="272.5" y="390.8" font-size="14.5" text-anchor="start" fill="#2b2b2b" letter-spacing="1.1">–90</text>
<text x="274.5" y="427.5" font-size="14.5" text-anchor="start" fill="#2b2b2b" letter-spacing="1.1">–80</text>
<text x="275.8" y="459.3" font-size="14.5" text-anchor="start" fill="#2b2b2b" letter-spacing="1.1">–70</text>
<text x="275" y="495" font-size="14.5" text-anchor="start" fill="#2b2b2b" letter-spacing="1.1">–60</text>
<text x="273.8" y="532.5" font-size="14.5" text-anchor="start" fill="#2b2b2b" letter-spacing="1.1">–50</text>
<text x="274.5" y="561.3" font-size="14.5" text-anchor="start" fill="#2b2b2b" letter-spacing="1.1">–40</text>
<text x="273.3" y="601.8" font-size="14.5" text-anchor="start" fill="#2b2b2b" letter-spacing="1.1">–30</text>
<text x="273.3" y="638" font-size="14.5" text-anchor="start" fill="#2b2b2b" letter-spacing="1.1">–20</text>
<text x="275" y="677.5" font-size="14.5" text-anchor="start" fill="#2b2b2b" letter-spacing="1.1">–10</text>
</g>
<g id="p2">
<line x1="152.3" y1="883" x2="152.3" y2="1077.5" stroke="#747474" stroke-width="1.35"/>
<line x1="220.46" y1="883" x2="220.46" y2="1077.5" stroke="#747474" stroke-width="1.35"/>
<line x1="288.62" y1="883" x2="288.62" y2="1077.5" stroke="#747474" stroke-width="1.35"/>
<line x1="356.78" y1="883" x2="356.78" y2="1077.5" stroke="#747474" stroke-width="1.35"/>
<line x1="424.94" y1="883" x2="424.94" y2="1077.5" stroke="#747474" stroke-width="1.35"/>
<line x1="493.1" y1="883" x2="493.1" y2="1077.5" stroke="#747474" stroke-width="1.35"/>
<line x1="561.26" y1="883" x2="561.26" y2="1077.5" stroke="#747474" stroke-width="1.35"/>
<line x1="629.42" y1="883" x2="629.42" y2="1077.5" stroke="#747474" stroke-width="1.35"/>
<line x1="697.58" y1="883" x2="697.58" y2="1077.5" stroke="#747474" stroke-width="1.35"/>
<line x1="765.74" y1="883" x2="765.74" y2="1077.5" stroke="#747474" stroke-width="1.35"/>
<line x1="833.9" y1="883" x2="833.9" y2="1077.5" stroke="#747474" stroke-width="1.35"/>
<line x1="902.06" y1="883" x2="902.06" y2="1077.5" stroke="#747474" stroke-width="1.35"/>
<line x1="970.22" y1="883" x2="970.22" y2="1077.5" stroke="#747474" stroke-width="1.35"/>
<line x1="1038.38" y1="883" x2="1038.38" y2="1077.5" stroke="#747474" stroke-width="1.35"/>
<line x1="139.3" y1="1065" x2="1051" y2="1065" stroke="#747474" stroke-width="1.35"/>
<line x1="139.3" y1="1028.6" x2="1051" y2="1028.6" stroke="#747474" stroke-width="1.35"/>
<line x1="139.3" y1="992.2" x2="1051" y2="992.2" stroke="#747474" stroke-width="1.35"/>
<line x1="139.3" y1="955.8" x2="1051" y2="955.8" stroke="#747474" stroke-width="1.35"/>
<line x1="139.3" y1="919.4" x2="1051" y2="919.4" stroke="#747474" stroke-width="1.35"/>
<line x1="139.3" y1="883" x2="1051" y2="883" stroke="#747474" stroke-width="1.35"/>
<line x1="146" y1="1046.8" x2="152.3" y2="1046.8" stroke="#747474" stroke-width="1.35"/>
<line x1="1038.38" y1="1046.8" x2="1044.8" y2="1046.8" stroke="#747474" stroke-width="1.35"/>
<line x1="146" y1="1010.4" x2="152.3" y2="1010.4" stroke="#747474" stroke-width="1.35"/>
<line x1="1038.38" y1="1010.4" x2="1044.8" y2="1010.4" stroke="#747474" stroke-width="1.35"/>
<line x1="146" y1="974" x2="152.3" y2="974" stroke="#747474" stroke-width="1.35"/>
<line x1="1038.38" y1="974" x2="1044.8" y2="974" stroke="#747474" stroke-width="1.35"/>
<line x1="146" y1="937.6" x2="152.3" y2="937.6" stroke="#747474" stroke-width="1.35"/>
<line x1="1038.38" y1="937.6" x2="1044.8" y2="937.6" stroke="#747474" stroke-width="1.35"/>
<line x1="146" y1="901.2" x2="152.3" y2="901.2" stroke="#747474" stroke-width="1.35"/>
<line x1="1038.38" y1="901.2" x2="1044.8" y2="901.2" stroke="#747474" stroke-width="1.35"/>
<line x1="186.38" y1="1065" x2="186.38" y2="1070.8" stroke="#747474" stroke-width="1.35"/>
<line x1="254.54" y1="1065" x2="254.54" y2="1070.8" stroke="#747474" stroke-width="1.35"/>
<line x1="322.7" y1="1065" x2="322.7" y2="1070.8" stroke="#747474" stroke-width="1.35"/>
<line x1="390.86" y1="1065" x2="390.86" y2="1070.8" stroke="#747474" stroke-width="1.35"/>
<line x1="459.02" y1="1065" x2="459.02" y2="1070.8" stroke="#747474" stroke-width="1.35"/>
<line x1="527.18" y1="1065" x2="527.18" y2="1070.8" stroke="#747474" stroke-width="1.35"/>
<line x1="595.34" y1="1065" x2="595.34" y2="1070.8" stroke="#747474" stroke-width="1.35"/>
<line x1="663.5" y1="1065" x2="663.5" y2="1070.8" stroke="#747474" stroke-width="1.35"/>
<line x1="731.66" y1="1065" x2="731.66" y2="1070.8" stroke="#747474" stroke-width="1.35"/>
<line x1="799.82" y1="1065" x2="799.82" y2="1070.8" stroke="#747474" stroke-width="1.35"/>
<line x1="867.98" y1="1065" x2="867.98" y2="1070.8" stroke="#747474" stroke-width="1.35"/>
<line x1="936.14" y1="1065" x2="936.14" y2="1070.8" stroke="#747474" stroke-width="1.35"/>
<line x1="1004.3" y1="1065" x2="1004.3" y2="1070.8" stroke="#747474" stroke-width="1.35"/>
<text x="133.8" y="1070.9" font-size="16" text-anchor="end" fill="#2b2b2b" letter-spacing="1.3">0.0</text>
<text x="133.8" y="1034.5" font-size="16" text-anchor="end" fill="#2b2b2b" letter-spacing="1.3">0.2</text>
<text x="133.8" y="998.1" font-size="16" text-anchor="end" fill="#2b2b2b" letter-spacing="1.3">0.4</text>
<text x="133.8" y="961.7" font-size="16" text-anchor="end" fill="#2b2b2b" letter-spacing="1.3">0.6</text>
<text x="133.8" y="925.3" font-size="16" text-anchor="end" fill="#2b2b2b" letter-spacing="1.3">0.8</text>
<text x="1058.5" y="1070.9" font-size="16" text-anchor="start" fill="#2b2b2b" letter-spacing="1.6">0</text>
<text x="1058.5" y="1034.5" font-size="16" text-anchor="start" fill="#2b2b2b" letter-spacing="1.6">20</text>
<text x="1058.5" y="998.1" font-size="16" text-anchor="start" fill="#2b2b2b" letter-spacing="1.6">40</text>
<text x="1058.5" y="961.7" font-size="16" text-anchor="start" fill="#2b2b2b" letter-spacing="1.6">60</text>
<text x="1058.5" y="925.3" font-size="16" text-anchor="start" fill="#2b2b2b" letter-spacing="1.6">80</text>
<text x="152.3" y="1099.3" font-size="16" text-anchor="middle" fill="#2b2b2b" letter-spacing="0.5">0</text>
<text x="220.46" y="1099.3" font-size="16" text-anchor="middle" fill="#2b2b2b" letter-spacing="0.5">2</text>
<text x="288.62" y="1099.3" font-size="16" text-anchor="middle" fill="#2b2b2b" letter-spacing="0.5">4</text>
<text x="356.78" y="1099.3" font-size="16" text-anchor="middle" fill="#2b2b2b" letter-spacing="0.5">6</text>
<text x="424.94" y="1099.3" font-size="16" text-anchor="middle" fill="#2b2b2b" letter-spacing="0.5">8</text>
<text x="493.1" y="1099.3" font-size="16" text-anchor="middle" fill="#2b2b2b" letter-spacing="0.5">10</text>
<text x="561.26" y="1099.3" font-size="16" text-anchor="middle" fill="#2b2b2b" letter-spacing="0.5">12</text>
<text x="629.42" y="1099.3" font-size="16" text-anchor="middle" fill="#2b2b2b" letter-spacing="0.5">14</text>
<text x="697.58" y="1099.3" font-size="16" text-anchor="middle" fill="#2b2b2b" letter-spacing="0.5">16</text>
<text x="765.74" y="1099.3" font-size="16" text-anchor="middle" fill="#2b2b2b" letter-spacing="0.5">18</text>
<text x="833.9" y="1099.3" font-size="16" text-anchor="middle" fill="#2b2b2b" letter-spacing="0.5">20</text>
<text x="902.06" y="1099.3" font-size="16" text-anchor="middle" fill="#2b2b2b" letter-spacing="0.5">22</text>
<text x="104.3" y="880.5" font-size="20" text-anchor="start" fill="#2b2b2b" letter-spacing="0.5">P2</text>
<text x="94" y="903.6" font-size="18" text-anchor="start" fill="#2b2b2b" letter-spacing="1.6">[<tspan font-size="20">kW</tspan>]</text>
<text x="1056.8" y="881.2" font-size="20" text-anchor="start" fill="#2b2b2b" letter-spacing="0.6">Eta</text>
<text x="1055.7" y="904.5" font-size="18" text-anchor="start" fill="#2b2b2b" letter-spacing="2.7">[<tspan font-size="20">%</tspan>]</text>
<text x="956.3" y="1102.8" font-size="20" text-anchor="start" fill="#2b2b2b" letter-spacing="1.55" word-spacing="-2.5">Q [m<tspan dy="-9" font-size="8.5">3</tspan><tspan dy="9">/h]</tspan></text>
<rect x="960" y="920.2" width="30" height="34.9" fill="#fff"/>
<text x="962.3" y="933.5" font-size="16" text-anchor="start" fill="#2b2b2b">P2</text>
<text x="962.3" y="952.3" font-size="16" text-anchor="start" fill="#2b2b2b" letter-spacing="0.6">Eta</text>
<path d="M152.3,1065C155.12,1062.6 163.53,1054.93 169.2,1050.6C174.87,1046.27 180.62,1042.67 186.3,1039C191.98,1035.33 197.6,1031.82 203.3,1028.6C209,1025.38 214.8,1022.58 220.5,1019.7C226.2,1016.82 231.47,1014.03 237.5,1011.3C243.53,1008.57 248.17,1006.45 256.7,1003.3C265.23,1000.15 277.7,995.95 288.7,992.4C299.7,988.85 311.37,985.12 322.7,982C334.03,978.88 345.37,976.23 356.7,973.7C368.03,971.17 379.32,968.88 390.7,966.8C402.08,964.72 416.78,962.53 425,961.2C433.22,959.87 434.22,959.78 440,958.8C445.78,957.82 453.12,956.44 459.68,955.32" fill="none" stroke="#444" stroke-width="1.55"/>
<path d="M440,958.8C445.78,957.82 453.12,956.44 459.68,955.32C466.24,954.2 472.8,953.12 479.36,952.08C485.92,951.05 492.48,950.05 499.04,949.1C505.6,948.14 512.16,947.22 518.72,946.35C525.28,945.47 531.84,944.63 538.4,943.83C544.96,943.04 551.52,942.28 558.08,941.55C564.64,940.83 571.21,940.15 577.77,939.5C584.33,938.85 590.89,938.25 597.45,937.68C604.01,937.1 610.57,936.57 617.13,936.08C623.69,935.58 630.25,935.12 636.81,934.7C643.37,934.28 649.93,933.89 656.49,933.55C663.05,933.2 669.61,932.89 676.17,932.62C682.73,932.35 689.29,932.11 695.85,931.92C702.41,931.72 708.97,931.56 715.53,931.44C722.09,931.32 728.65,931.24 735.21,931.2C741.77,931.16 748.33,931.15 754.89,931.19C761.45,931.23 768.01,931.3 774.57,931.42C781.13,931.53 787.69,931.69 794.25,931.88C800.81,932.08 807.37,932.32 813.93,932.6C820.49,932.88 827.06,933.2 833.62,933.57C840.18,933.94 846.74,934.34 853.3,934.8C859.86,935.25 866.42,935.75 872.98,936.29C879.54,936.84 886.1,937.43 892.66,938.07C899.22,938.7 905.78,939.39 912.34,940.12C918.9,940.86 925.46,941.64 932.02,942.47C938.58,943.3 948.42,944.68 951.7,945.12" fill="none" stroke="#444" stroke-width="3.3"/>
<path d="M152.3,1020.4C158.03,1019.57 175.37,1017.13 186.7,1015.4C198.03,1013.67 208.63,1012.02 220.3,1010C231.97,1007.98 245.3,1005.28 256.7,1003.3C268.1,1001.32 277.7,999.95 288.7,998.1C299.7,996.25 311.37,994.18 322.7,992.2C334.03,990.22 345.37,988.23 356.7,986.2C368.03,984.17 379.32,982.12 390.7,980C402.08,977.88 416.78,975.08 425,973.5C433.22,971.92 434.22,971.56 440,970.5C445.78,969.44 453.14,968.25 459.7,967.16" fill="none" stroke="#444" stroke-width="1.55"/>
<path d="M440,970.5C445.78,969.44 453.14,968.25 459.7,967.16C466.27,966.08 472.84,965.01 479.41,963.97C485.98,962.94 492.54,961.92 499.11,960.93C505.68,959.94 512.25,958.98 518.82,958.04C525.38,957.1 531.95,956.19 538.52,955.3C545.09,954.41 551.66,953.54 558.22,952.7C564.79,951.86 571.36,951.04 577.93,950.25C584.49,949.46 591.06,948.69 597.63,947.95C604.2,947.2 610.77,946.48 617.33,945.79C623.9,945.09 630.47,944.42 637.04,943.77C643.61,943.12 650.17,942.49 656.74,941.89C663.31,941.28 669.88,940.7 676.45,940.14C683.01,939.58 689.58,939.05 696.15,938.53C702.72,938.02 709.29,937.52 715.85,937.05C722.42,936.57 728.99,936.12 735.56,935.69C742.13,935.26 748.69,934.84 755.26,934.45C761.83,934.06 768.4,933.68 774.97,933.32C781.53,932.97 788.1,932.63 794.67,932.31C801.24,931.99 807.81,931.68 814.37,931.39C820.94,931.1 827.51,930.83 834.08,930.58C840.64,930.32 847.21,930.08 853.78,929.85C860.35,929.62 866.92,929.4 873.48,929.2C880.05,929 886.62,928.81 893.19,928.63C899.76,928.45 906.32,928.28 912.89,928.12C919.46,927.96 926.03,927.81 932.6,927.67C939.16,927.53 949.02,927.34 952.3,927.27" fill="none" stroke="#444" stroke-width="3.3"/>
</g>
<g id="npsh">
<line x1="152.3" y1="1125.7" x2="152.3" y2="1319.6" stroke="#747474" stroke-width="1.35"/>
<line x1="220.46" y1="1125.7" x2="220.46" y2="1319.6" stroke="#747474" stroke-width="1.35"/>
<line x1="288.62" y1="1125.7" x2="288.62" y2="1319.6" stroke="#747474" stroke-width="1.35"/>
<line x1="356.78" y1="1125.7" x2="356.78" y2="1319.6" stroke="#747474" stroke-width="1.35"/>
<line x1="424.94" y1="1125.7" x2="424.94" y2="1319.6" stroke="#747474" stroke-width="1.35"/>
<line x1="493.1" y1="1125.7" x2="493.1" y2="1319.6" stroke="#747474" stroke-width="1.35"/>
<line x1="561.26" y1="1125.7" x2="561.26" y2="1319.6" stroke="#747474" stroke-width="1.35"/>
<line x1="629.42" y1="1125.7" x2="629.42" y2="1319.6" stroke="#747474" stroke-width="1.35"/>
<line x1="697.58" y1="1125.7" x2="697.58" y2="1319.6" stroke="#747474" stroke-width="1.35"/>
<line x1="765.74" y1="1125.7" x2="765.74" y2="1319.6" stroke="#747474" stroke-width="1.35"/>
<line x1="833.9" y1="1125.7" x2="833.9" y2="1319.6" stroke="#747474" stroke-width="1.35"/>
<line x1="902.06" y1="1125.7" x2="902.06" y2="1319.6" stroke="#747474" stroke-width="1.35"/>
<line x1="970.22" y1="1125.7" x2="970.22" y2="1319.6" stroke="#747474" stroke-width="1.35"/>
<line x1="1038.38" y1="1125.7" x2="1038.38" y2="1319.6" stroke="#747474" stroke-width="1.35"/>
<line x1="139.3" y1="1307.7" x2="1051" y2="1307.7" stroke="#747474" stroke-width="1.35"/>
<line x1="139.3" y1="1262.2" x2="1051" y2="1262.2" stroke="#747474" stroke-width="1.35"/>
<line x1="139.3" y1="1216.7" x2="1051" y2="1216.7" stroke="#747474" stroke-width="1.35"/>
<line x1="139.3" y1="1171.2" x2="1051" y2="1171.2" stroke="#747474" stroke-width="1.35"/>
<line x1="139.3" y1="1125.7" x2="1051" y2="1125.7" stroke="#747474" stroke-width="1.35"/>
<line x1="146" y1="1284.95" x2="152.3" y2="1284.95" stroke="#747474" stroke-width="1.35"/>
<line x1="146" y1="1239.45" x2="152.3" y2="1239.45" stroke="#747474" stroke-width="1.35"/>
<line x1="146" y1="1193.95" x2="152.3" y2="1193.95" stroke="#747474" stroke-width="1.35"/>
<line x1="146" y1="1148.45" x2="152.3" y2="1148.45" stroke="#747474" stroke-width="1.35"/>
<line x1="186.38" y1="1307.7" x2="186.38" y2="1313.4" stroke="#747474" stroke-width="1.35"/>
<line x1="254.54" y1="1307.7" x2="254.54" y2="1313.4" stroke="#747474" stroke-width="1.35"/>
<line x1="322.7" y1="1307.7" x2="322.7" y2="1313.4" stroke="#747474" stroke-width="1.35"/>
<line x1="390.86" y1="1307.7" x2="390.86" y2="1313.4" stroke="#747474" stroke-width="1.35"/>
<line x1="459.02" y1="1307.7" x2="459.02" y2="1313.4" stroke="#747474" stroke-width="1.35"/>
<line x1="527.18" y1="1307.7" x2="527.18" y2="1313.4" stroke="#747474" stroke-width="1.35"/>
<line x1="595.34" y1="1307.7" x2="595.34" y2="1313.4" stroke="#747474" stroke-width="1.35"/>
<line x1="663.5" y1="1307.7" x2="663.5" y2="1313.4" stroke="#747474" stroke-width="1.35"/>
<line x1="731.66" y1="1307.7" x2="731.66" y2="1313.4" stroke="#747474" stroke-width="1.35"/>
<line x1="799.82" y1="1307.7" x2="799.82" y2="1313.4" stroke="#747474" stroke-width="1.35"/>
<line x1="867.98" y1="1307.7" x2="867.98" y2="1313.4" stroke="#747474" stroke-width="1.35"/>
<line x1="936.14" y1="1307.7" x2="936.14" y2="1313.4" stroke="#747474" stroke-width="1.35"/>
<line x1="1004.3" y1="1307.7" x2="1004.3" y2="1313.4" stroke="#747474" stroke-width="1.35"/>
<rect x="249.3" y="1163" width="79.2" height="24" fill="#fff"/>
<rect x="260" y="1267" width="55" height="21" fill="#fff"/>
<text x="133.6" y="1313.6" font-size="16" text-anchor="end" fill="#2b2b2b" letter-spacing="1.4">0</text>
<text x="133.6" y="1268.1" font-size="16" text-anchor="end" fill="#2b2b2b" letter-spacing="1.4">5</text>
<text x="133.6" y="1222.6" font-size="16" text-anchor="end" fill="#2b2b2b" letter-spacing="1.4">10</text>
<text x="133.6" y="1177.1" font-size="16" text-anchor="end" fill="#2b2b2b" letter-spacing="1.4">15</text>
<text x="1056.7" y="1313.6" font-size="16" text-anchor="start" fill="#2b2b2b">0</text>
<text x="1056.7" y="1268.1" font-size="16" text-anchor="start" fill="#2b2b2b">2</text>
<text x="1056.7" y="1222.6" font-size="16" text-anchor="start" fill="#2b2b2b">4</text>
<text x="1056.7" y="1177.1" font-size="16" text-anchor="start" fill="#2b2b2b">6</text>
<text x="152.3" y="1340" font-size="16" text-anchor="middle" fill="#2b2b2b" letter-spacing="0.5">0</text>
<text x="220.46" y="1340" font-size="16" text-anchor="middle" fill="#2b2b2b" letter-spacing="0.5">2</text>
<text x="288.62" y="1340" font-size="16" text-anchor="middle" fill="#2b2b2b" letter-spacing="0.5">4</text>
<text x="356.78" y="1340" font-size="16" text-anchor="middle" fill="#2b2b2b" letter-spacing="0.5">6</text>
<text x="424.94" y="1340" font-size="16" text-anchor="middle" fill="#2b2b2b" letter-spacing="0.5">8</text>
<text x="493.1" y="1340" font-size="16" text-anchor="middle" fill="#2b2b2b" letter-spacing="0.5">10</text>
<text x="561.26" y="1340" font-size="16" text-anchor="middle" fill="#2b2b2b" letter-spacing="0.5">12</text>
<text x="629.42" y="1340" font-size="16" text-anchor="middle" fill="#2b2b2b" letter-spacing="0.5">14</text>
<text x="697.58" y="1340" font-size="16" text-anchor="middle" fill="#2b2b2b" letter-spacing="0.5">16</text>
<text x="765.74" y="1340" font-size="16" text-anchor="middle" fill="#2b2b2b" letter-spacing="0.5">18</text>
<text x="833.9" y="1340" font-size="16" text-anchor="middle" fill="#2b2b2b" letter-spacing="0.5">20</text>
<text x="902.06" y="1340" font-size="16" text-anchor="middle" fill="#2b2b2b" letter-spacing="0.5">22</text>
<text x="117.5" y="1122.3" font-size="20.5" text-anchor="middle" fill="#2b2b2b">H</text>
<text x="102.5" y="1145.8" font-size="18" text-anchor="start" fill="#2b2b2b" letter-spacing="1.4">[<tspan font-size="21">m</tspan>]</text>
<text x="1046.5" y="1123.3" font-size="20.5" text-anchor="start" fill="#2b2b2b" letter-spacing="0.7">NPSH</text>
<text x="1060.8" y="1145" font-size="18" text-anchor="start" fill="#2b2b2b" letter-spacing="1.7">[<tspan font-size="21">m</tspan>]</text>
<text x="956.3" y="1343.8" font-size="20" text-anchor="start" fill="#2b2b2b" letter-spacing="1.55" word-spacing="-2.5">Q [m<tspan dy="-9" font-size="8.5">3</tspan><tspan dy="9">/h]</tspan></text>
<text x="265.5" y="1176" font-size="17" text-anchor="start" fill="#2b2b2b" letter-spacing="1.6">QH</text>
<text x="262" y="1287.7" font-size="17" text-anchor="start" fill="#2b2b2b" letter-spacing="1.1">NPSH</text>
<path d="M152.3,1187.7C163.63,1187.58 197.57,1187.12 220.3,1187C243.03,1186.88 265.97,1186.95 288.7,1187C311.43,1187.05 333.98,1187.18 356.7,1187.3C379.42,1187.42 411.12,1187.62 425,1187.7C438.88,1187.78 434.22,1187.66 440,1187.8C445.78,1187.94 453.12,1188.29 459.68,1188.56" fill="none" stroke="#444" stroke-width="1.55"/>
<path d="M440,1187.8C445.78,1187.94 453.12,1188.29 459.68,1188.56C466.24,1188.82 472.8,1189.1 479.36,1189.39C485.92,1189.67 492.48,1189.97 499.04,1190.29C505.6,1190.6 512.16,1190.93 518.72,1191.26C525.28,1191.6 531.84,1191.95 538.4,1192.32C544.96,1192.68 551.52,1193.06 558.08,1193.45C564.64,1193.84 571.21,1194.25 577.77,1194.67C584.33,1195.08 590.89,1195.52 597.45,1195.96C604.01,1196.41 610.57,1196.87 617.13,1197.35C623.69,1197.82 630.25,1198.31 636.81,1198.82C643.37,1199.32 649.93,1199.84 656.49,1200.38C663.05,1200.91 669.61,1201.46 676.17,1202.03C682.73,1202.6 689.29,1203.18 695.85,1203.78C702.41,1204.38 708.97,1205 715.53,1205.63C722.09,1206.27 728.65,1206.92 735.21,1207.59C741.77,1208.26 748.33,1208.95 754.89,1209.65C761.45,1210.36 768.01,1211.08 774.57,1211.82C781.13,1212.57 787.69,1213.33 794.25,1214.11C800.81,1214.89 807.37,1215.7 813.93,1216.52C820.49,1217.34 827.06,1218.18 833.62,1219.05C840.18,1219.91 846.74,1220.8 853.3,1221.71C859.86,1222.61 866.42,1223.54 872.98,1224.5C879.54,1225.45 886.1,1226.43 892.66,1227.42C899.22,1228.42 905.78,1229.45 912.34,1230.49C918.9,1231.54 925.46,1232.61 932.02,1233.71C938.58,1234.81 948.42,1236.52 951.7,1237.08" fill="none" stroke="#444" stroke-width="3.3"/>
<path d="M152.3,1295.7C163.63,1295.47 197.57,1294.8 220.3,1294.3C243.03,1293.8 265.97,1293.25 288.7,1292.7C311.43,1292.15 333.98,1291.62 356.7,1291C379.42,1290.38 411.12,1289.38 425,1289C438.88,1288.62 428.67,1288.93 440,1288.7C451.33,1288.47 472.78,1288.27 493,1287.6" fill="none" stroke="#444" stroke-width="1.55"/>
<path d="M440,1288.7C451.33,1288.47 472.78,1288.27 493,1287.6C513.22,1286.93 538.58,1285.75 561.3,1284.7C584.02,1283.65 606.57,1282.53 629.3,1281.3C652.03,1280.07 680.63,1278.63 697.7,1277.3C714.77,1275.97 720.37,1274.8 731.7,1273.3C743.03,1271.8 754.32,1270.23 765.7,1268.3C777.08,1266.37 788.67,1264.17 800,1261.7C811.33,1259.23 822.58,1256.52 833.7,1253.5C844.82,1250.48 855.37,1247.25 866.7,1243.6C878.03,1239.95 890.6,1235.87 901.7,1231.6C912.8,1227.33 924.8,1221.6 933.3,1218C941.8,1214.4 949.47,1211.33 952.7,1210" fill="none" stroke="#444" stroke-width="3.3"/>
<line x1="151.7" y1="1364.8" x2="1034.5" y2="1364.8" stroke="#a0a0a0" stroke-width="1.4"/>
<line x1="152.3" y1="1365" x2="152.3" y2="1371" stroke="#333" stroke-width="1.2"/>
<text x="151" y="1387.3" font-size="16" text-anchor="middle" fill="#2b2b2b" letter-spacing="2.2">0.0</text>
<line x1="274.4" y1="1365" x2="274.4" y2="1371" stroke="#333" stroke-width="1.2"/>
<text x="274.4" y="1387.3" font-size="16" text-anchor="middle" fill="#2b2b2b">1</text>
<line x1="396.5" y1="1365" x2="396.5" y2="1371" stroke="#333" stroke-width="1.2"/>
<text x="396.5" y="1387.3" font-size="16" text-anchor="middle" fill="#2b2b2b">2</text>
<line x1="518.6" y1="1365" x2="518.6" y2="1371" stroke="#333" stroke-width="1.2"/>
<text x="518.6" y="1387.3" font-size="16" text-anchor="middle" fill="#2b2b2b">3</text>
<line x1="640.7" y1="1365" x2="640.7" y2="1371" stroke="#333" stroke-width="1.2"/>
<text x="640.7" y="1387.3" font-size="16" text-anchor="middle" fill="#2b2b2b">4</text>
<line x1="762.8" y1="1365" x2="762.8" y2="1371" stroke="#333" stroke-width="1.2"/>
<text x="762.8" y="1387.3" font-size="16" text-anchor="middle" fill="#2b2b2b">5</text>
<line x1="884.9" y1="1365" x2="884.9" y2="1371" stroke="#333" stroke-width="1.2"/>
<text x="884.9" y="1387.3" font-size="16" text-anchor="middle" fill="#2b2b2b">6</text>
<text x="985" y="1387.2" font-size="16.5" text-anchor="start" fill="#2b2b2b" letter-spacing="1.1">Q[ l/s]</text>
</g>
</svg>
</body></html>
